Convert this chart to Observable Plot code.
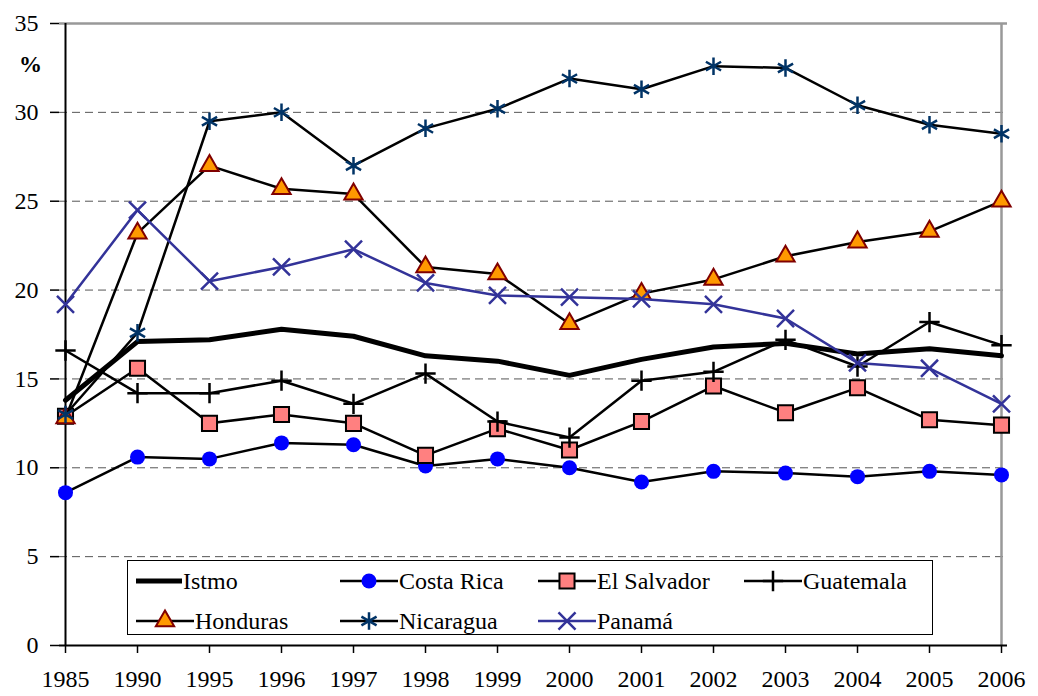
<!DOCTYPE html>
<html><head><meta charset="utf-8">
<script src="https://cdn.jsdelivr.net/npm/d3@7"></script>
<script src="https://cdn.jsdelivr.net/npm/@observablehq/plot@0.6"></script>
<style>html, body { margin: 0; padding: 0; background: #fff; }</style>
</head>
<body style="font-family:'Liberation Serif'">
<div id="wrap" style="position:relative;width:1038px;height:696px;font-family:'Liberation Serif'"></div>
<script>
const years = ["1985","1990","1995","1996","1997","1998","1999","2000","2001","2002","2003","2004","2005","2006"];
const seriesNames = ["Istmo","Costa Rica","El Salvador","Guatemala","Honduras","Nicaragua","Panamá"];
const istmo      = [13.8,17.1,17.2,17.8,17.4,16.3,16.0,15.2,16.1,16.8,17.0,16.4,16.7,16.3];
const costaRica  = [8.6,10.6,10.5,11.4,11.3,10.1,10.5,10.0,9.2,9.8,9.7,9.5,9.8,9.6];
const elSalvador = [12.9,15.6,12.5,13.0,12.5,10.7,12.2,11.0,12.6,14.6,13.1,14.5,12.7,12.4];
const guatemala  = [16.6,14.2,14.2,14.9,13.6,15.3,12.6,11.7,14.9,15.4,17.2,15.7,18.2,16.9];
const honduras   = [12.8,23.2,27.0,25.7,25.4,21.3,20.9,18.1,19.8,20.6,21.9,22.7,23.3,25.0];
const nicaragua  = [13.0,17.6,29.5,30.0,27.0,29.1,30.2,31.9,31.3,32.6,32.5,30.4,29.3,28.8];
const panama     = [19.2,24.5,20.5,21.3,22.3,20.4,19.7,19.6,19.5,19.2,18.4,15.9,15.6,13.6];
const yTicks = [0,5,10,15,20,25,30,35];

const FONT = "Liberation Serif";
const valuesBySeries = [istmo, costaRica, elSalvador, guatemala, honduras, nicaragua, panama];
const styles = {
  "Istmo":       {line:"#000", lw:5,   symbol:null},
  "Costa Rica":  {line:"#000", lw:2.5, symbol:"circle",   r:7.5, fill:"#0000FF", stroke:"none", sw:0},
  "El Salvador": {line:"#000", lw:2.5, symbol:"square",   r:8.5, fill:"#FF8080", stroke:"#000", sw:2},
  "Guatemala":   {line:"#000", lw:2.5, symbol:"plus",     r:6.6, fill:"none",    stroke:"#000", sw:2.5},
  "Honduras":    {line:"#000", lw:2.5, symbol:"triangle", r:6.8, fill:"#FF9900", stroke:"#800000", sw:2},
  "Nicaragua":   {line:"#000", lw:2.5, symbol:"asterisk", r:8.3, fill:"none",    stroke:"#003366", sw:2.5},
  "Panamá":      {line:"#333399", lw:2.5, symbol:"times", r:7.8, fill:"none",    stroke:"#333399", sw:2.5}
};

const table = [];
seriesNames.forEach((s, i) => years.forEach((y, j) => table.push({series: s, year: y, value: valuesBySeries[i][j]})));

const marks = [
  Plot.ruleY(yTicks.filter(t => t > 0 && t < 35), {stroke: "#555", strokeWidth: 1, strokeDasharray: "8,5"}),
  Plot.ruleY([35], {stroke: "#999", strokeWidth: 2.5}),
  Plot.ruleX([years[years.length - 1]], {stroke: "#999", strokeWidth: 2.5}),
  Plot.ruleX([years[0]], {stroke: "#000", strokeWidth: 2}),
  Plot.ruleY([0], {stroke: "#000", strokeWidth: 2}),
  Plot.axisY({ticks: yTicks, tickSize: 9, tickPadding: 12, fontSize: 24, fontFamily: FONT, tickFormat: d => d, label: null, stroke: "#000", strokeWidth: 1.5}),
  Plot.axisX({tickSize: 8, tickPadding: 16, fontSize: 24, fontFamily: FONT, label: null, stroke: "#000", strokeWidth: 1.5})
];
seriesNames.forEach(s => {
  const st = styles[s];
  const d = table.filter(r => r.series === s);
  marks.push(Plot.line(d, {x: "year", y: "value", stroke: st.line, strokeWidth: st.lw, strokeLinejoin: "round"}));
  if (st.symbol) {
    marks.push(Plot.dot(d, {x: "year", y: "value", symbol: st.symbol, r: st.r, fill: st.fill, stroke: st.stroke, strokeWidth: st.sw, fillOpacity: 1}));
  }
});

const chart = Plot.plot({
  width: 1038, height: 696,
  marginLeft: 59, marginRight: 31, marginTop: 23, marginBottom: 51,
  style: {fontFamily: FONT, color: "#000", background: "#fff"},
  x: {type: "point", domain: years, padding: 0},
  y: {domain: [0, 35]},
  marks
});
const wrap = document.getElementById("wrap");
wrap.appendChild(chart);

const pct = document.createElement("div");
pct.style.cssText = "position:absolute;left:19px;top:52px;font-weight:bold;font-size:23px;font-family:'Liberation Serif'";
pct.textContent = "%";
wrap.appendChild(pct);

// Legend
const legend = document.createElement("div");
legend.style.cssText = "position:absolute;left:127px;top:560px;width:806px;height:75px;border:1.5px solid #000;background:#fff;box-sizing:border-box;font-family:'Liberation Serif'";
const cols = [8, 212, 410, 616];
const rows = [5, 45];
const symMap = {circle: d3.symbolCircle, square: d3.symbolSquare, plus: d3.symbolPlus, triangle: d3.symbolTriangle, asterisk: d3.symbolAsterisk, times: d3.symbolTimes};
seriesNames.forEach((s, i) => {
  const st = styles[s];
  const item = document.createElement("div");
  item.style.cssText = `position:absolute;display:flex;align-items:center;height:30px;white-space:nowrap;left:${cols[i < 4 ? i : i - 4]}px;top:${rows[i < 4 ? 0 : 1]}px`;
  const w = i === 0 ? 46 : 58;
  let svg = `<svg width="${w}" height="30" style="margin-right:1px"><line x1="0" x2="${w}" y1="15" y2="15" stroke="${st.line}" stroke-width="${st.lw}"/>`;
  if (st.symbol) {
    const p = d3.symbol(symMap[st.symbol], Math.PI * st.r * st.r)();
    svg += `<path transform="translate(${w/2},15)" d="${p}" fill="${st.fill}" stroke="${st.stroke}" stroke-width="${st.sw}"/>`;
  }
  svg += `</svg>`;
  const span = document.createElement("span");
  span.style.cssText = "font-family:'Liberation Serif';font-size:24px";
  span.textContent = s;
  item.innerHTML = svg;
  item.appendChild(span);
  legend.appendChild(item);
});
wrap.appendChild(legend);
</script>
</body></html>
